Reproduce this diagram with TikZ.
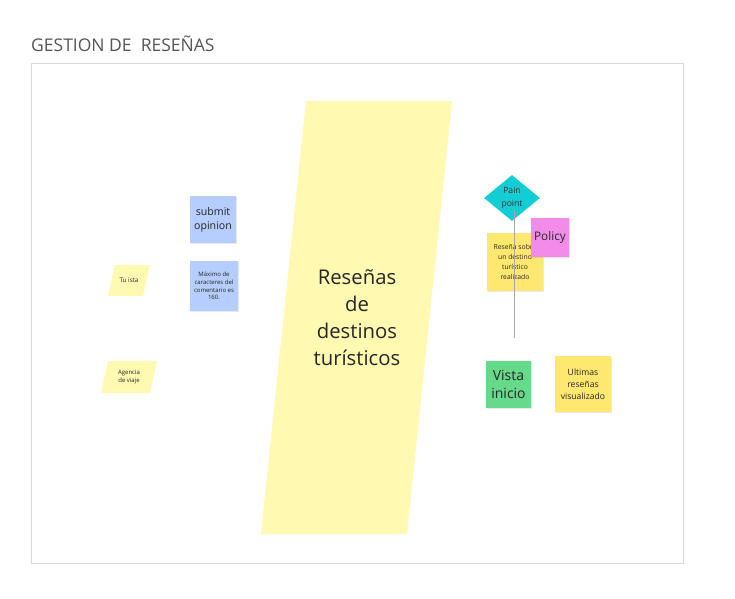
\documentclass[tikz,border=0pt]{standalone}
\usepackage{fontspec}
\setmainfont{Open Sans}
\usetikzlibrary{shapes.geometric,shadows}
\definecolor{paleyel}{HTML}{FFF9B1}
\definecolor{stickyel}{HTML}{FFE870}
\definecolor{stickblue}{HTML}{B5CDFF}
\definecolor{stickgreen}{HTML}{67D98A}
\definecolor{stickpink}{HTML}{F38BEA}
\definecolor{paincyan}{HTML}{12CDD4}
\definecolor{framegray}{HTML}{DADADA}
\definecolor{titlegray}{HTML}{555555}
\tikzset{
  sticky/.style={draw=none, inner sep=1pt, align=center, text=black!85,
    drop shadow={shadow xshift=0.6pt, shadow yshift=-1.2pt, opacity=0.18}},
  lbl/.style={align=center, text=black!85, inner sep=0pt},
}
\begin{document}
\begin{tikzpicture}[x=1pt,y=-1pt]
\useasboundingbox (0,0) rectangle (735,598);
\fill[white] (0,0) rectangle (735,598);
% title and frame
\node[anchor=west, text=titlegray, inner sep=0pt, font=\fontsize{17.5}{20}\selectfont] (title) at (31,44) {GESTION DE\ \ RESEÑAS};
\draw[framegray, fill=white, line width=0.8pt] (31,63) rectangle (683,563);
% big parallelogram
\fill[paleyel] (306,101) -- (452,101) -- (407,534) -- (261,534) -- cycle;
\node[lbl, font=\fontsize{20.3}{27}\selectfont] (main) at (357,318) {Reseñas\\de\\destinos\\turísticos};
% small parallelograms
\fill[paleyel] (115,265) -- (150,265) -- (143,296) -- (108,296) -- cycle;
\node[lbl, font=\fontsize{6.3}{7}\selectfont] (tur) at (129,280.5) {Tu ista};
\fill[paleyel] (108,361) -- (157,361) -- (150,393) -- (101,393) -- cycle;
\node[lbl, font=\fontsize{6}{8}\selectfont] (age) at (129,377) {Agencia\\de viaje};
% blue stickies
\node[sticky, fill=stickblue, minimum width=46, minimum height=47, font=\fontsize{10.6}{14.5}\selectfont] (sub) at (213,219.5) {submit\\opinion};
\node[sticky, fill=stickblue, minimum width=48, minimum height=50, font=\fontsize{6}{7.8}\selectfont] (max) at (214,286) {Máximo de\\caracteres del\\comentario es\\160.};
% yellow sticky under policy
\node[sticky, fill=stickyel, minimum width=56, minimum height=58, font=\fontsize{6.8}{10}\selectfont] (res) at (515,262) {Reseña sobre\\un destino\\turístico\\realizado};
% pain point diamond
\node[diamond, fill=paincyan, minimum width=56, minimum height=46, inner sep=0pt, aspect=1.2, align=center, font=\fontsize{8.6}{12.5}\selectfont, text=black!80] (pp) at (512,198) {Pain\\point};
\coordinate (lineend) at (514.5,338);
\draw[gray!70, line width=0.9pt] (514.5,210) -- (lineend);
% policy
\node[sticky, fill=stickpink, minimum width=38, minimum height=39, font=\fontsize{11.8}{14}\selectfont] (pol) at (550,237.5) {Policy};
% green and yellow bottom
\node[sticky, fill=stickgreen, minimum width=45, minimum height=47, font=\fontsize{14}{18}\selectfont] (vis) at (508.5,384.5) {Vista\\inicio};
\node[sticky, fill=stickyel, minimum width=56, minimum height=56, font=\fontsize{8.6}{12}\selectfont] (ult) at (583,384) {Ultimas\\reseñas\\visualizado};
\end{tikzpicture}
\end{document}
